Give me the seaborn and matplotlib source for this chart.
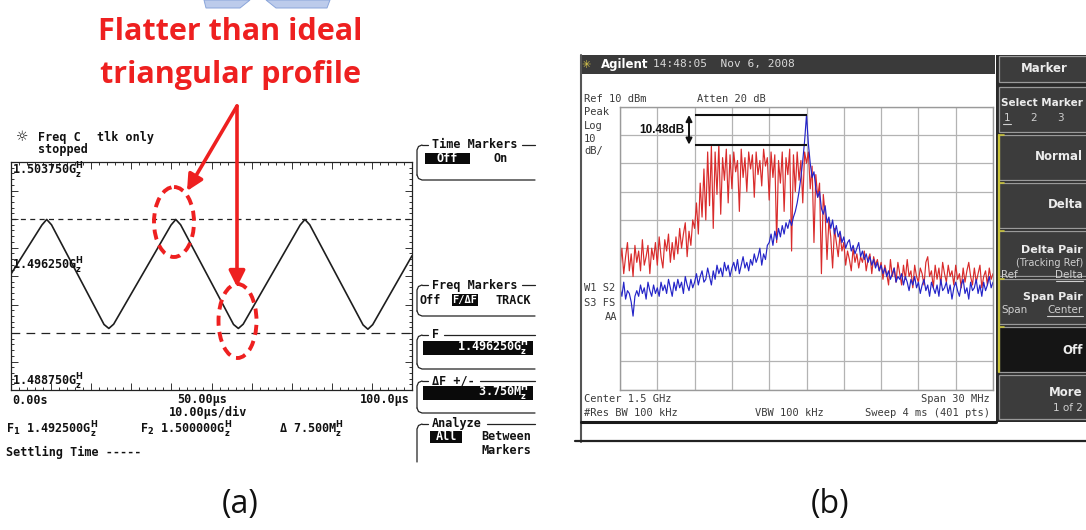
import numpy as np
import matplotlib
matplotlib.use("Agg")
import matplotlib.pyplot as plt
import seaborn as sns
from matplotlib.patches import Rectangle, Ellipse, FancyArrowPatch, Polygon
from matplotlib.ticker import MultipleLocator

# ---------------- (a) swept-source frequency vs time ----------------
wave_t_us = [0.0, 7.7, 8.9, 10.1, 23.2, 24.4, 25.6, 39.9, 41.1, 42.3,
             55.5, 56.7, 57.9, 72.1, 73.3, 74.5, 87.8, 89.0, 90.2, 100.0]
wave_f_ghz = [1.49638, 1.49960, 1.49997, 1.49962, 1.49306, 1.49280, 1.49308,
              1.49960, 1.49997, 1.49962, 1.49306, 1.49280, 1.49308,
              1.49960, 1.49997, 1.49962, 1.49303, 1.49275, 1.49305, 1.49758]
a_f_top_ghz = 1.50375
a_f_mid_ghz = 1.49625
a_f_bot_ghz = 1.48875
f1_marker_ghz = 1.4925
f2_marker_ghz = 1.5000
a_span_us = 100.0

# ---------------- (b) spectrum analyzer traces ----------------
center_mhz = 1500.0
span_mhz = 30.0
ref_dbm = 10.0
db_per_div = 10.0
red_trace_dbm = [
    -47, -40, -49, -43, -38, -48, -42, -50, -39, -45,
    -41, -48, -37, -46, -43, -39, -49, -40, -44, -38,
    -46, -36, -43, -47, -37, -41, -35, -45, -38, -44,
    -36, -42, -33, -40, -35, -31, -43, -34, -39, -30,
    -33, -24, -35, -17, -29, -12, -30, -6, -25, -4,
    -33, -6, -21, -3.4, -28, -8, -16, -5, -24, -7,
    -19, -6, -13, -9, -27, -5, -15, -8, -20, -6,
    -12, -7, -22, -6, -14, -9, -18, -5, -11, -8,
    -23, -6, -15, -7, -38, -9, -17, -6, -27, -8,
    -14, -5, -41, -7, -20, -6, -16, -9, -24, -6,
    -10, -6, -19, -11, -38, -14, -22, -17, -49, -21,
    -28, -44, -30, -36, -47, -33, -38, -43, -35, -41,
    -38, -46, -41, -44, -48, -40, -45, -42, -47, -43,
    -45, -41, -48, -44, -42, -49, -43, -46, -44, -48,
    -45, -51, -46, -49, -53, -44, -50, -47, -52, -45,
    -49, -53, -46, -51, -44, -50, -48, -54, -46, -50,
    -52, -47, -49, -53, -45, -43, -50, -48, -54, -46,
    -51, -47, -53, -45, -49, -52, -46, -50, -48, -53,
    -46, -51, -49, -54, -47, -52, -48, -45, -50, -53,
    -47, -52, -49, -46, -54, -50, -48, -53, -47, -51,
    -49]
blue_trace_dbm = [
    -54, -57, -52, -58, -55, -56, -59, -64, -57, -55,
    -57, -53, -56, -54, -58, -52, -55, -57, -53, -56,
    -54, -57, -52, -55, -53, -56, -51, -54, -57, -52,
    -55, -51, -54, -52, -56, -50, -53, -55, -51, -54,
    -52, -49, -53, -50, -48, -52, -51, -47, -50, -53,
    -48, -51, -46, -49, -47, -50, -45, -48, -46, -50,
    -47, -45, -48, -44, -49, -46, -43, -47, -45, -48,
    -44, -46, -42, -45, -43, -40, -46, -42, -44, -39,
    -38, -35, -39, -34, -37, -33, -36, -32, -35, -31,
    -33, -30, -32, -29, -27, -24, -20, -15, -9, -2,
    7.07, -3, -10, -15, -13, -19, -22, -20, -26, -28,
    -25, -31, -29, -33, -30, -35, -32, -36, -34, -38,
    -36, -40, -38, -37, -41, -39, -42, -40, -38, -43,
    -41, -44, -42, -45, -43, -46, -44, -47, -45, -48,
    -46, -49, -47, -50, -48, -51, -49, -47, -52, -50,
    -51, -49, -53, -50, -52, -55, -51, -53, -50, -54,
    -52, -56, -53, -51, -55, -53, -57, -52, -54, -56,
    -53, -57, -51, -55, -54, -52, -56, -53, -58, -54,
    -52, -55, -57, -53, -51, -56, -54, -58, -52, -55,
    -54, -51, -56, -53, -57, -52, -55, -53, -50, -54,
    -52]
marker_peak_dbm = 7.07
marker_delta_db = 10.48
marker_start_mhz = 1491.0
marker_stop_mhz = 1500.0
freq_mhz = np.linspace(center_mhz - span_mhz / 2, center_mhz + span_mhz / 2, len(red_trace_dbm))

sns.set_theme(style="white")
plt.rcParams['font.family'] = ['DejaVu Sans']
MONO = 'DejaVu Sans Mono'
NARROW = ['Liberation Sans Narrow', 'Open Sans', 'DejaVu Sans']

W, H = 1086, 530
fig = plt.figure(figsize=(W / 100, H / 100), dpi=100)
fig.patch.set_facecolor('white')


def px_axes(x0, y0, x1, y1, z):
    return fig.add_axes([x0 / W, 1 - y1 / H, (x1 - x0) / W, (y1 - y0) / H], zorder=z)


ax_bg = px_axes(0, 0, W, H, 0)
ax_fg = px_axes(0, 0, W, H, 20)
for _ax in (ax_bg, ax_fg):
    _ax.set_xlim(0, W)
    _ax.set_ylim(H, 0)
    _ax.axis('off')
    _ax.patch.set_visible(False)


def mtext(x, y, s, size=8.5, color='#111111', weight='bold', family=MONO, ha='left', **kw):
    return ax_fg.text(x, y, s, fontsize=size, color=color, fontweight=weight, family=family,
                      ha=ha, va='center', **kw)


def box(x0, y0, x1, y1, fc, ec='none', lw=0.0, ax=None, z=1):
    (ax or ax_bg).add_patch(Rectangle((x0, y0), x1 - x0, y1 - y0, fc=fc, ec=ec, lw=lw, zorder=z))


GHZ = r"G$^{\bf H}_{\bf z}$"
MHZ = r"M$^{\bf H}_{\bf z}$"

# ---------- panel (a): trace area ----------
ax_a = px_axes(11, 162, 412, 390, 5)
sns.lineplot(x=wave_t_us, y=wave_f_ghz, ax=ax_a, color='#1e1e1e', linewidth=1.2)
ax_a.axhline(f2_marker_ghz, color='#222222', lw=0.9, ls=(0, (4, 3.5)))
ax_a.axhline(f1_marker_ghz, color='#222222', lw=0.9, ls=(0, (7, 5)))
ax_a.set_xlim(0, a_span_us)
ax_a.set_ylim(a_f_bot_ghz, a_f_top_ghz)
ax_a.set_xlabel('')
ax_a.set_ylabel('')
ax_a.xaxis.set_major_locator(MultipleLocator(a_span_us / 10))
ax_a.xaxis.set_minor_locator(MultipleLocator(a_span_us / 50))
ax_a.yaxis.set_major_locator(MultipleLocator((a_f_top_ghz - a_f_bot_ghz) / 8))
ax_a.yaxis.set_minor_locator(MultipleLocator((a_f_top_ghz - a_f_bot_ghz) / 40))
ax_a.tick_params(which='both', direction='in', top=True, right=True, bottom=True, left=True,
                 labelbottom=False, labelleft=False, color='#333333', width=0.7)
ax_a.tick_params(which='major', length=5)
ax_a.tick_params(which='minor', length=2.5)
for sp in ax_a.spines.values():
    sp.set_color('#222222')
    sp.set_linewidth(0.9)

mtext(22, 137, "☼", family='DejaVu Sans', weight='normal', size=10, ha='center')
mtext(38, 137, "Freq C")
mtext(97, 137, "tlk only")
mtext(38, 150, "stopped")
mtext(12, 171, f"{a_f_top_ghz:.6f}" + GHZ)
mtext(12, 266, f"{a_f_mid_ghz:.6f}" + GHZ)
mtext(12, 382, f"{a_f_bot_ghz:.6f}" + GHZ)
mtext(12, 400, "0.00s")
mtext(202, 400, "50.00µs", ha='center')
mtext(410, 400, "100.0µs", ha='right')
mtext(208, 412, "10.00µs/div", ha='center')
mtext(6, 430, r"F$_{\bf 1}$ " + f"{f1_marker_ghz:.6f}" + GHZ)
mtext(140, 430, r"F$_{\bf 2}$ " + f"{f2_marker_ghz:.6f}" + GHZ)
mtext(279, 430, "Δ " + f"{(f2_marker_ghz - f1_marker_ghz) * 1000:.3f}" + MHZ)
mtext(6, 452, "Settling Time -----")


def bracket(top, bottom, title, bottom_line=True):
    xl, xr, r = 417, 535, 5
    lo = bottom - r if bottom_line else bottom
    ax_fg.plot([xl + r, xl + 1.5, xl, xl], [top, top + 1.5, top + r, lo], color='#222222', lw=0.9)
    ax_fg.plot([xl + r, xl + 11], [top, top], color='#222222', lw=0.9)
    mtext(xl + 15, top, title)
    ax_fg.plot([xl + 15 + len(title) * 7.1 + 5, xr], [top, top], color='#222222', lw=0.9)
    if bottom_line:
        ax_fg.plot([xl, xl + 1.5, xl + r, xr], [lo, bottom - 1.5, bottom, bottom], color='#222222', lw=0.9)


def black_key(x0, y0, x1, y1, s, ha='center', size=8.5):
    box(x0, y0, x1, y1, '#0a0a0a', ax=ax_fg, z=2)
    if ha == 'center':
        mtext((x0 + x1) / 2, (y0 + y1) / 2, s, color='white', ha='center', size=size, zorder=3)
    else:
        mtext(x1 - 4, (y0 + y1) / 2, s, color='white', ha='right', size=size, zorder=3)


bracket(145, 180, "Time Markers")
black_key(425, 153, 470, 164, "Off")
mtext(493, 158.5, "On")
bracket(285, 316, "Freq Markers")
mtext(419, 300, "Off")
black_key(452, 294, 478, 306, "F/ΔF", size=7.5)
mtext(496, 300, "TRACK")
bracket(335, 369, "F")
black_key(423, 341, 533, 355, f"{a_f_mid_ghz:.6f}" + GHZ, ha='right')
bracket(381, 413, "ΔF +/-")
black_key(423, 386, 533, 400, f"{(f2_marker_ghz - f1_marker_ghz) * 500:.3f}" + MHZ, ha='right')
bracket(424, 462, "Analyze", bottom_line=False)
black_key(430, 431, 462, 443, "All")
mtext(481, 437, "Between")
mtext(481, 451, "Markers")

# ---------- panel (b): analyzer screen ----------
box(581, 55, 995, 74, '#3a3a3a')
box(996, 55, 1086, 422, '#2a2a2a')
ax_bg.plot([581, 581], [55, 442], color='#555555', lw=1.5)
ax_bg.plot([581, 996], [421.5, 421.5], color='#1a1a1a', lw=2.2)
ax_bg.plot([575, 1086], [441, 441], color='#222222', lw=1.6)

buttons = [(56, 82, '#3c3c3c'), (87, 132, '#3c3c3c'), (135, 180, '#3c3c3c'), (183, 228, '#3c3c3c'),
           (231, 276, '#3c3c3c'), (279, 324, '#3c3c3c'), (327, 372, '#151515'), (375, 419, '#3c3c3c')]
for y0, y1, fc in buttons:
    box(998.5, y0, 1090, y1, fc, ec='#9a9a9a', lw=0.9, z=2)
ax_bg.plot([998.5, 998.5], [135, 372], color='#c8c23a', lw=1.6, zorder=3)
for yy in (135, 183, 231, 279, 327):
    ax_bg.plot([998.5, 1004], [yy, yy], color='#c8c23a', lw=1.2, zorder=3)

mtext(586, 64.5, "✳", family='DejaVu Sans', color='#d8c64c', size=8, ha='center')
mtext(601, 64.5, "Agilent", family='DejaVu Sans', color='white', size=8.5)
mtext(653, 64.5, "14:48:05  Nov 6, 2008", weight='normal', color='#d8d8d8', size=8)

GRAY = '#3a3a3a'
mtext(584, 99, f"Ref {ref_dbm:.0f} dBm", weight='normal', color=GRAY, size=7.5)
mtext(697, 99, "Atten 20 dB", weight='normal', color=GRAY, size=7.5)
for yy, s in ((112, "Peak"), (126, "Log"), (139, f"{db_per_div:.0f}"), (151, "dB/")):
    mtext(584, yy, s, weight='normal', color=GRAY, size=7.5)
mtext(584, 288, "W1 S2", weight='normal', color=GRAY, size=7.5)
mtext(584, 303, "S3 FS", weight='normal', color=GRAY, size=7.5)
mtext(617, 317, "AA", weight='normal', color=GRAY, size=7.5, ha='right')
mtext(584, 399, f"Center {center_mhz / 1000:.1f} GHz", weight='normal', color=GRAY, size=7.5)
mtext(990, 399, f"Span {span_mhz:.0f} MHz", weight='normal', color=GRAY, size=7.5, ha='right')
mtext(584, 413, "#Res BW 100 kHz", weight='normal', color=GRAY, size=7.5)
mtext(755, 413, "VBW 100 kHz", weight='normal', color=GRAY, size=7.5)
mtext(990, 413, f"Sweep 4 ms ({len(red_trace_dbm) * 2 - 1} pts)", weight='normal', color=GRAY, size=7.5, ha='right')

# softkey labels, right-aligned inside the key column
SK = '#ececec'
SK2 = '#cfcfcf'
KR = 1083
mtext(1044, 68, "Marker", family='DejaVu Sans', color=SK, size=8.5, ha='center')
mtext(KR, 103, "Select Marker", family='DejaVu Sans', color=SK, size=7.5, ha='right')
for xx, s in ((1004, "1"), (1030, "2"), (1057, "3")):
    mtext(xx, 118, s, family='DejaVu Sans', weight='normal', color=SK2, size=7.5)
ax_fg.plot([1003, 1011], [124, 124], color=SK2, lw=0.8)
mtext(KR, 157, "Normal", family='DejaVu Sans', color=SK, size=8.5, ha='right')
mtext(KR, 205, "Delta", family='DejaVu Sans', color=SK, size=8.5, ha='right')
mtext(KR, 250, "Delta Pair", family='DejaVu Sans', color=SK, size=8, ha='right')
mtext(KR, 263, "(Tracking Ref)", family='DejaVu Sans', weight='normal', color=SK2, size=7, ha='right')
mtext(1001, 275, "Ref", family='DejaVu Sans', weight='normal', color=SK2, size=7.5)
mtext(KR, 275, "Delta", family='DejaVu Sans', weight='normal', color=SK2, size=7.5, ha='right')
ax_fg.plot([1056, KR], [281, 281], color=SK2, lw=0.8)
mtext(KR, 297, "Span Pair", family='DejaVu Sans', color=SK, size=8, ha='right')
mtext(1001, 310, "Span", family='DejaVu Sans', weight='normal', color=SK2, size=7.5)
mtext(KR, 310, "Center", family='DejaVu Sans', weight='normal', color=SK2, size=7.5, ha='right')
ax_fg.plot([1047, KR], [316, 316], color=SK2, lw=0.8)
mtext(KR, 350, "Off", family='DejaVu Sans', color=SK, size=8.5, ha='right')
mtext(KR, 393, "More", family='DejaVu Sans', color=SK, size=8.5, ha='right')
mtext(KR, 408, "1 of 2", family='DejaVu Sans', weight='normal', color=SK2, size=7.5, ha='right')

ax_b = px_axes(620, 106.7, 993, 389.7, 5)
sns.lineplot(x=freq_mhz, y=red_trace_dbm, ax=ax_b, color='#d92b2b', linewidth=0.85)
sns.lineplot(x=freq_mhz, y=blue_trace_dbm, ax=ax_b, color='#2424c8', linewidth=0.85)
ax_b.set_xlim(center_mhz - span_mhz / 2, center_mhz + span_mhz / 2)
ax_b.set_ylim(ref_dbm - 10 * db_per_div, ref_dbm)
ax_b.xaxis.set_major_locator(MultipleLocator(span_mhz / 10))
ax_b.yaxis.set_major_locator(MultipleLocator(db_per_div))
ax_b.grid(True, color='#b3b3b3', lw=0.9)
ax_b.set_axisbelow(True)
ax_b.tick_params(length=0, labelbottom=False, labelleft=False)
ax_b.set_xlabel('')
ax_b.set_ylabel('')
for sp in ax_b.spines.values():
    sp.set_color('#9a9a9a')
    sp.set_linewidth(1.0)

ax_b.hlines([marker_peak_dbm, marker_peak_dbm - marker_delta_db], marker_start_mhz, marker_stop_mhz,
            colors='#111111', lw=1.5, zorder=4)
arrow_x = marker_start_mhz - 0.45
ax_b.annotate('', xy=(arrow_x, marker_peak_dbm), xytext=(arrow_x, marker_peak_dbm - marker_delta_db),
              arrowprops=dict(arrowstyle='<|-|>', color='#111111', lw=1.4, mutation_scale=9,
                              shrinkA=0, shrinkB=0), zorder=5)
ax_b.text(arrow_x - 0.35, marker_peak_dbm - marker_delta_db / 2, f"{marker_delta_db:.2f}dB",
          ha='right', va='center', fontsize=8.5, fontweight='bold', family='Liberation Sans', color='#111111')

# ---------- callouts over panel (a) ----------
RED = '#ee2020'
ax_fg.text(230, 32, "Flatter than ideal", ha='center', va='center', color=RED,
           fontsize=22, fontweight='bold', family=NARROW)
ax_fg.text(230, 75, "triangular profile", ha='center', va='center', color=RED,
           fontsize=22, fontweight='bold', family=NARROW)
for tip in ((187, 191), (237, 287)):
    ax_fg.add_patch(FancyArrowPatch((237, 106), tip, arrowstyle='-|>', mutation_scale=24,
                                    lw=2.6, color=RED, shrinkA=0, shrinkB=0))
for (cx, cy, ew, eh) in ((174, 222, 40, 70), (237.5, 321, 38, 74)):
    ax_fg.add_patch(Ellipse((cx, cy), ew, eh, fill=False, ec=RED, lw=2.8, ls=(0, (2.6, 1.6))))

ax_fg.add_patch(Polygon([(204, 0), (250, 0), (240, 8), (206, 8)], fc='#bccbeb', ec='#8aa5da', lw=0.7))
ax_fg.add_patch(Polygon([(266, 0), (330, 0), (327, 8), (276, 8)], fc='#bccbeb', ec='#8aa5da', lw=0.7))

ax_fg.text(240, 505, "(a)", ha='center', va='center', fontsize=23, family='Open Sans', color='#111111')
ax_fg.text(830, 505, "(b)", ha='center', va='center', fontsize=23, family='Open Sans', color='#111111')

fig.savefig("out.png", dpi=100, facecolor='white')
